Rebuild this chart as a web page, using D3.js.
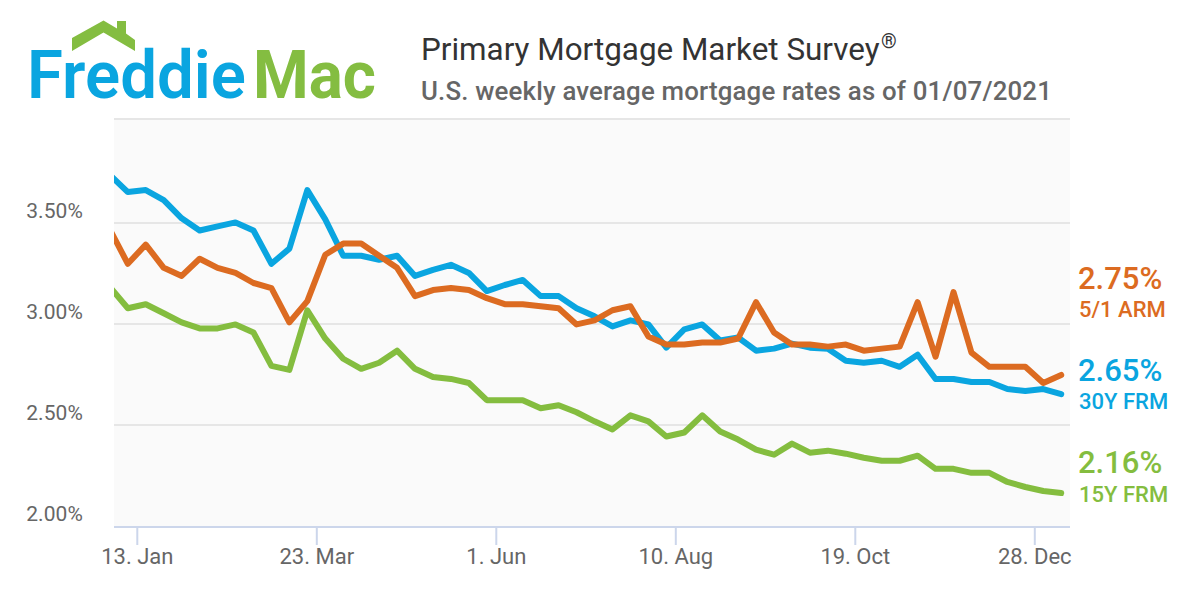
<!DOCTYPE html>
<html><head><meta charset="utf-8">
<script src="https://cdn.jsdelivr.net/npm/d3@7"></script>
<style>html,body{margin:0;padding:0;background:#fff}svg{display:block}text{font-family:Roboto,sans-serif}</style>
</head><body><svg id="c" width="1200" height="600"></svg>
<script>
const weeks=["2020-01-02","2020-01-09","2020-01-16","2020-01-23","2020-01-30","2020-02-06","2020-02-13","2020-02-20","2020-02-27","2020-03-05","2020-03-12","2020-03-19","2020-03-26","2020-04-02","2020-04-09","2020-04-16","2020-04-23","2020-04-30","2020-05-07","2020-05-14","2020-05-21","2020-05-28","2020-06-04","2020-06-11","2020-06-18","2020-06-25","2020-07-02","2020-07-09","2020-07-16","2020-07-23","2020-07-30","2020-08-06","2020-08-13","2020-08-20","2020-08-27","2020-09-03","2020-09-10","2020-09-17","2020-09-24","2020-10-01","2020-10-08","2020-10-15","2020-10-22","2020-10-29","2020-11-05","2020-11-12","2020-11-19","2020-11-26","2020-12-03","2020-12-10","2020-12-17","2020-12-24","2020-12-31","2021-01-07"];
const frm30=[3.74,3.655,3.665,3.615,3.525,3.465,3.485,3.505,3.465,3.30,3.375,3.665,3.52,3.34,3.34,3.32,3.34,3.24,3.27,3.295,3.255,3.165,3.195,3.22,3.14,3.14,3.08,3.04,2.99,3.02,3.00,2.885,2.975,3.00,2.92,2.935,2.87,2.88,2.905,2.885,2.88,2.82,2.81,2.82,2.79,2.85,2.73,2.73,2.715,2.715,2.68,2.67,2.68,2.655];
const arm51=[3.47,3.30,3.395,3.28,3.24,3.325,3.28,3.255,3.205,3.18,3.01,3.115,3.345,3.40,3.40,3.34,3.28,3.14,3.17,3.18,3.17,3.13,3.10,3.10,3.09,3.08,3.00,3.02,3.07,3.09,2.94,2.90,2.90,2.91,2.91,2.93,3.11,2.96,2.90,2.90,2.89,2.90,2.87,2.88,2.89,3.11,2.84,3.16,2.86,2.79,2.79,2.79,2.71,2.75];
const frm15=[3.185,3.08,3.10,3.055,3.01,2.98,2.98,3.00,2.96,2.795,2.775,3.07,2.93,2.83,2.78,2.81,2.87,2.78,2.74,2.73,2.71,2.625,2.625,2.625,2.585,2.60,2.565,2.52,2.48,2.55,2.52,2.445,2.465,2.55,2.47,2.43,2.38,2.355,2.41,2.365,2.375,2.36,2.34,2.325,2.325,2.35,2.285,2.285,2.265,2.265,2.22,2.195,2.175,2.165];
const xTickDates=["2020-01-13","2020-03-23","2020-06-01","2020-08-10","2020-10-19","2020-12-28"];
const xTickLabels=["13. Jan","23. Mar","1. Jun","10. Aug","19. Oct","28. Dec"];
const yTicks=[2,2.5,3,3.5];
const series=[
 {name:"15Y FRM",latest:"2.16%",values:frm15,color:"#84bd3f",ly:473,ny:502},
 {name:"30Y FRM",latest:"2.65%",values:frm30,color:"#0aa5e0",ly:381,ny:409},
 {name:"5/1 ARM",latest:"2.75%",values:arm51,color:"#dc6b21",ly:289,ny:317}
];
const svg=d3.select("#c");
const L=114,R=1070,T=118,B=527;
const p=d3.utcParse("%Y-%m-%d");
// data points are stamped mid-day relative to the Monday ticks
const dates=weeks.map(w=>new Date(+p(w)+432e5));
const x=d3.scaleUtc().domain([p(xTickDates[0]),p(xTickDates[5])]).range([136.8,1034.3]);
const y=d3.scaleLinear().domain([2,3]).range([526.4,324.4]);
svg.append("rect").attr("x",L).attr("y",T).attr("width",R-L).attr("height",B-T).attr("fill","#fafafa");
svg.append("defs").append("clipPath").attr("id","pc").append("rect").attr("x",L).attr("y",T).attr("width",R-L).attr("height",B-T);
svg.append("line").attr("x1",L).attr("x2",R).attr("y1",119).attr("y2",119).attr("stroke","#e6e6e6").attr("stroke-width",2);
svg.append("g").selectAll("line").data(yTicks.filter(d=>d>2)).join("line")
 .attr("x1",L).attr("x2",R).attr("y1",d=>y(d)-0.4).attr("y2",d=>y(d)-0.4)
 .attr("stroke","#e6e6e6").attr("stroke-width",2);
const yAxis=d3.axisLeft(y).tickValues(yTicks).tickSize(0).tickFormat(d=>d.toFixed(2)+"%");
const ya=svg.append("g").attr("transform",`translate(86,-13)`).call(yAxis);
ya.select(".domain").remove();
ya.selectAll("text").attr("font-size",21).attr("fill","#666").attr("letter-spacing",0.1).attr("font-family","Roboto");
const xAxis=d3.axisBottom(x).tickValues(xTickDates.map(p)).tickSize(18).tickPadding(3).tickFormat((d,i)=>xTickLabels[i]);
const xa=svg.append("g").attr("transform",`translate(0,${B})`).call(xAxis);
xa.select(".domain").remove();
xa.selectAll("line").attr("stroke","#ccd6eb").attr("stroke-width",2);
xa.selectAll("text").attr("font-size",22).attr("fill","#666").attr("font-family","Roboto");
svg.append("line").attr("x1",L).attr("x2",R).attr("y1",B).attr("y2",B).attr("stroke","#ccd6eb").attr("stroke-width",2);
const line=d3.line().x((d,i)=>x(dates[i])).y(d=>y(d)).curve(d3.curveLinear);
svg.append("g").attr("clip-path","url(#pc)").selectAll("path").data(series).join("path")
 .attr("d",d=>line(d.values)).attr("fill","none").attr("stroke",d=>d.color).attr("stroke-width",6)
 .attr("stroke-linejoin","round").attr("stroke-linecap","round");
const lab=svg.append("g").selectAll("g").data(series).join("g");
lab.append("text").attr("x",1078).attr("y",d=>d.ly).attr("font-size",31).attr("font-weight",500).attr("fill",d=>d.color).text(d=>d.latest);
lab.append("text").attr("x",1079).attr("y",d=>d.ny).attr("font-size",22).attr("font-weight",500).attr("fill",d=>d.color).text(d=>d.name);
// title
svg.append("text").attr("x",421).attr("y",60).attr("font-size",31.4).attr("fill","#333").text("Primary Mortgage Market Survey");
svg.append("text").attr("x",881).attr("y",48).attr("font-size",20).attr("fill","#333").text("®");
svg.append("text").attr("x",421).attr("y",100).attr("font-size",25.8).attr("font-weight",500).attr("letter-spacing",0.19).attr("fill","#666").text("U.S. weekly average mortgage rates as of 01/07/2021");
// logo
const logo=svg.append("g");
const roofPts=[[72,38],[103.5,20.5],[117,28.5],[117,21],[126,21],[126,33.5],[135,40],[135,51],[103.5,32.5],[72,51]];
logo.append("polygon").attr("points",roofPts.join(" ")).attr("fill","#84bd41");
logo.append("text").attr("x",27).attr("y",98).attr("font-family","Inter").attr("font-size",66).attr("font-weight",600).attr("fill","#0aa5e0").attr("textLength",219).attr("lengthAdjust","spacingAndGlyphs").text("Freddie");
logo.append("text").attr("x",253).attr("y",98).attr("font-family","Inter").attr("font-size",66).attr("font-weight",700).attr("fill","#84bd41").attr("textLength",123).attr("lengthAdjust","spacingAndGlyphs").text("Mac");
</script></body></html>
